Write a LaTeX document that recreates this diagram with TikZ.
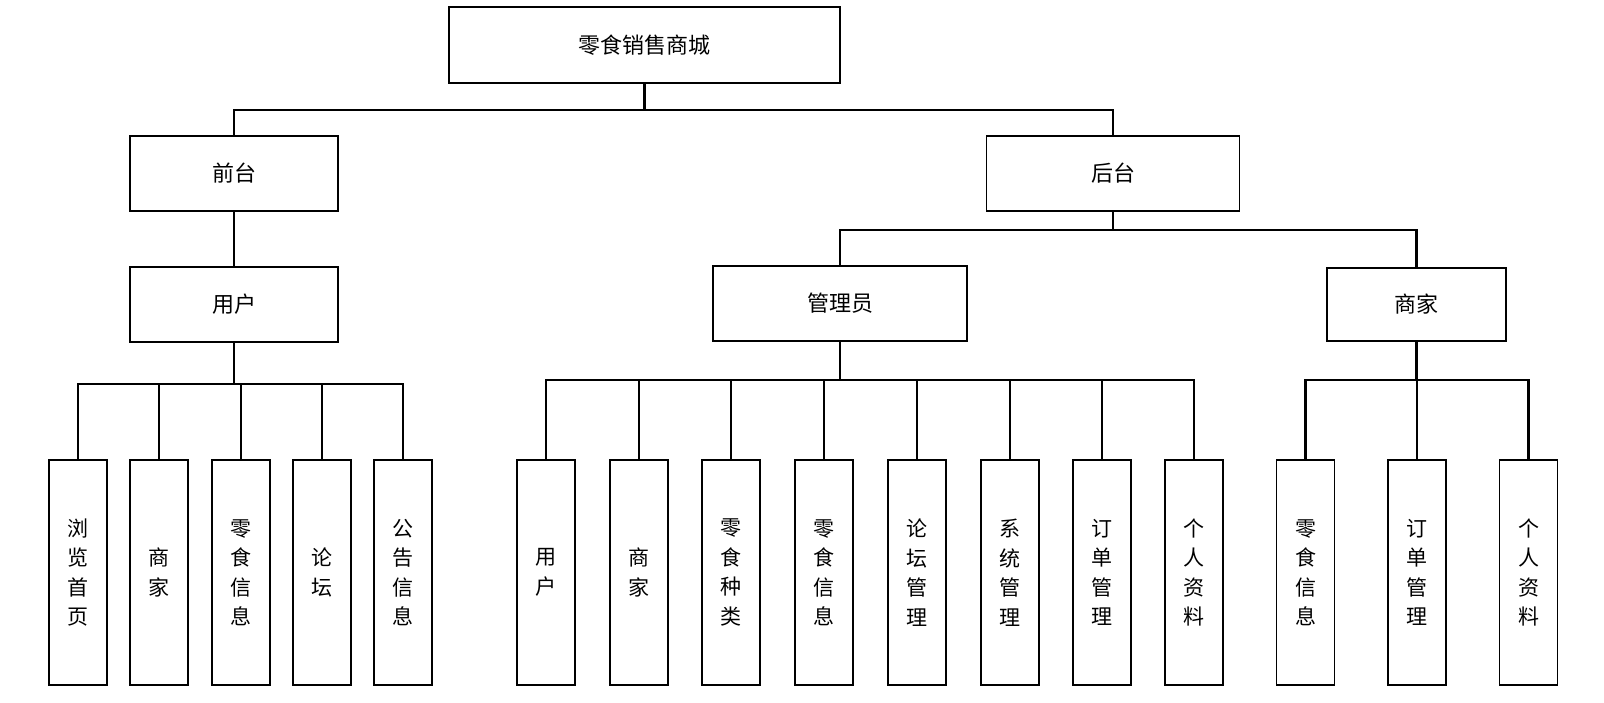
\documentclass[tikz,border=0pt]{standalone}
\usepackage{fontspec}
\newfontfamily\cjk{Noto Sans CJK SC}
\begin{document}
\begin{tikzpicture}[x=1pt,y=-1pt,
  box/.style={draw=black,line width=1.2pt,fill=white,inner sep=0pt,font=\cjk\fontsize{22}{26}\selectfont},
  leaf/.style={draw=black,line width=1.2pt,fill=white,inner sep=0pt,minimum width=58pt,minimum height=225pt,align=center,font=\cjk\fontsize{21}{29.5}\selectfont},
  conn/.style={draw=black,line width=2.4pt}]
\useasboundingbox (0,0) rectangle (1604,702);
% top level boxes
\node[box,minimum width=391pt,minimum height=76pt] (root) at (644.5,45) {零食销售商城};
\node[box,minimum width=208pt,minimum height=75pt] (front) at (234,173.5) {前台};
\node[box,minimum width=253pt,minimum height=75pt] (back) at (1113,173.5) {后台};
\node[box,minimum width=208pt,minimum height=75pt] (user) at (234,304.5) {用户};
\node[box,minimum width=254pt,minimum height=75pt] (admin) at (840,303.5) {管理员};
\node[box,minimum width=179pt,minimum height=73pt] (shop) at (1416.5,304.5) {商家};
% bus coordinates
\coordinate (busA) at (0,110);
\coordinate (busB) at (0,230);
\coordinate (busU) at (0,384);
\coordinate (busM) at (0,380);
% leaves: user
\node[leaf] (u1) at (78,572.5) {浏\\览\\首\\页};
\node[leaf] (u2) at (159,572.5) {商\\家};
\node[leaf] (u3) at (241,572.5) {零\\食\\信\\息};
\node[leaf] (u4) at (322,572.5) {论\\坛};
\node[leaf] (u5) at (403,572.5) {公\\告\\信\\息};
% leaves: admin
\node[leaf] (a1) at (546,572.5) {用\\户};
\node[leaf] (a2) at (639,572.5) {商\\家};
\node[leaf] (a3) at (731,572.5) {零\\食\\种\\类};
\node[leaf] (a4) at (824,572.5) {零\\食\\信\\息};
\node[leaf] (a5) at (917,572.5) {论\\坛\\管\\理};
\node[leaf] (a6) at (1010,572.5) {系\\统\\管\\理};
\node[leaf] (a7) at (1102,572.5) {订\\单\\管\\理};
\node[leaf] (a8) at (1194,572.5) {个\\人\\资\\料};
% leaves: shop
\node[leaf] (s1) at (1305.5,572.5) {零\\食\\信\\息};
\node[leaf] (s2) at (1417,572.5) {订\\单\\管\\理};
\node[leaf] (s3) at (1528.5,572.5) {个\\人\\资\\料};
% connectors
\draw[conn] (root.south) -- (root.south |- busA) -| (front.north);
\draw[conn] (root.south |- busA) -| (back.north);
\draw[conn] (front.south) -- (user.north);
\draw[conn] (back.south) -- (back.south |- busB) -| (admin.north);
\draw[conn] (back.south |- busB) -| (shop.north);
\draw[conn] (user.south) -- (user.south |- busU);
\foreach \n in {u1,u2,u3,u4,u5} \draw[conn] (user.south |- busU) -| (\n.north);
\draw[conn] (admin.south) -- (admin.south |- busM);
\foreach \n in {a1,a2,a3,a4,a5,a6,a7,a8} \draw[conn] (admin.south |- busM) -| (\n.north);
\draw[conn] (shop.south) -- (shop.south |- busM);
\foreach \n in {s1,s2,s3} \draw[conn] (shop.south |- busM) -| (\n.north);
\end{tikzpicture}
\end{document}
